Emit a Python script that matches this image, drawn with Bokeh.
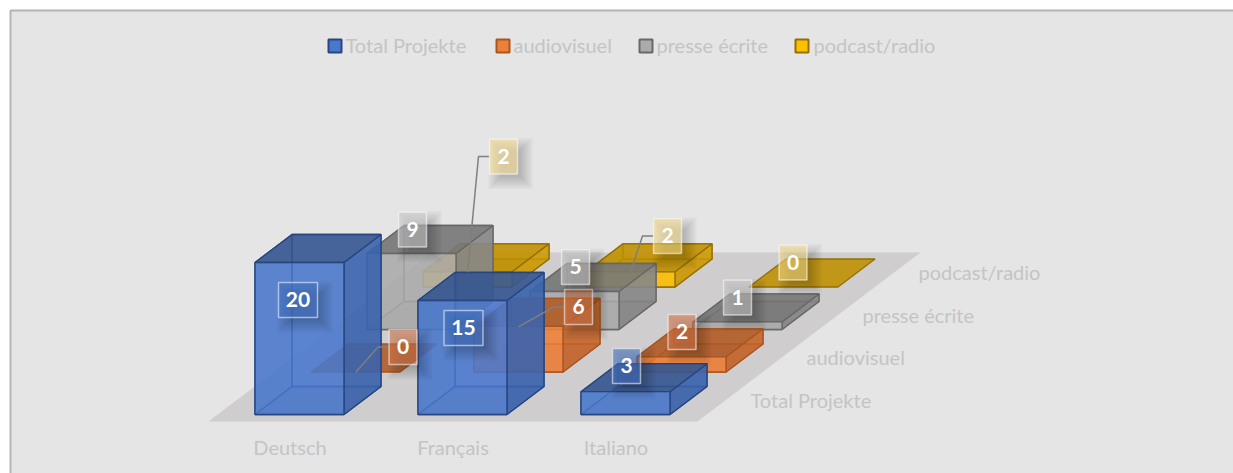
from bokeh.plotting import figure
from bokeh.models import ColumnDataSource, Range1d
from bokeh.core.properties import value
from bokeh.embed import file_html
from bokeh.resources import INLINE

categories = ["Deutsch", "Français", "Italiano"]
series_names = ["Total Projekte", "audiovisuel", "presse écrite", "podcast/radio"]

total_projekte = [20, 15, 3]
audiovisuel = [0, 6, 2]
presse_ecrite = [10, 5, 1]      # height of the drawn column
podcast_radio = [2, 2, 0]

total_labels = [20, 15, 3]
audiovisuel_labels = [0, 6, 2]
presse_labels = [9, 5, 1]       # the printed label differs from the drawn height
podcast_labels = [2, 2, 0]

heights = [total_projekte, audiovisuel, presse_ecrite, podcast_radio]
labels = [total_labels, audiovisuel_labels, presse_labels, podcast_labels]

# styles: front, side, top, edge, label fill
STYLE = [
    ("#4A78CC", "#3A62AC", "#35558F", "#264680", "#4472C4"),
    ("#EE8038", "#C4642A", "#B05A25", "#A8561F", "#D8784A"),
    ("#ABABAB", "#858585", "#757575", "#686868", "#CDCDCD"),
    ("#FFC000", "#CC9A05", "#BF9000", "#927000", "#FAE08C"),
]
TEXT_COL = "#C4C4C4"
FONT = "Lato"

# oblique projection of the 3D chart
FLOOR_X, FLOOR_Y = 208.0, 421.0
FLOOR_W = 489.0
DEPTH_X, DEPTH_Y = 223.0, -169.0
CAT_W = FLOOR_W / len(categories)
BAR_W = 89.0
BAR_DX, BAR_DY = 37.0, -28.0
ROW_DX, ROW_DY = 56.0, -42.5
FIRST_DX, FIRST_DY = 9.5, -7.0
GAP = 37.0
UNIT = 7.6


def box_corner(c, s):
    return (FLOOR_X + c * CAT_W + GAP + FIRST_DX + s * ROW_DX,
            FLOOR_Y + FIRST_DY + s * ROW_DY)


xs, ys, fills, alphas, edges = [], [], [], [], []


def face(pts, fill, alpha, edge):
    xs.append([q[0] for q in pts])
    ys.append([q[1] for q in pts])
    fills.append(fill)
    alphas.append(alpha)
    edges.append(edge)


for s in reversed(range(len(series_names))):
    front, side, top, edge, _ = STYLE[s]
    for c in range(len(categories)):
        x, y = box_corner(c, s)
        h = heights[s][c] * UNIT
        xr = x + BAR_W
        dx, dy = BAR_DX, BAR_DY
        if h > 0:
            # faces seen through the translucent box
            face([(x + dx, y + dy), (xr + dx, y + dy), (xr + dx, y + dy - h), (x + dx, y + dy - h)], front, 0.25, edge)
            face([(x, y), (x + dx, y + dy), (x + dx, y + dy - h), (x, y - h)], side, 0.25, edge)
            face([(x, y), (xr, y), (xr + dx, y + dy), (x + dx, y + dy)], top, 0.35, edge)
            # outer faces
            face([(xr, y), (xr + dx, y + dy), (xr + dx, y + dy - h), (xr, y - h)], side, 0.88, edge)
            face([(x, y - h), (xr, y - h), (xr + dx, y + dy - h), (x + dx, y + dy - h)], top, 0.88, edge)
            face([(x, y), (xr, y), (xr, y - h), (x, y - h)], front, 0.85, edge)
        else:
            face([(x, y), (xr, y), (xr + dx, y + dy), (x + dx, y + dy)], top, 0.88, edge)

p = figure(width=1233, height=473, x_range=Range1d(0, 1233), y_range=Range1d(473, 0),
           output_backend="svg", toolbar_location=None, min_border=0,
           background_fill_color="white", border_fill_color="white", outline_line_color=None)
p.xaxis.visible = False
p.yaxis.visible = False
p.grid.visible = False

# chart area with its border
p.quad(left=[10], right=[1233], top=[10], bottom=[473], fill_color="#E5E5E5", line_color=None)
p.line([10, 10, 1233], [473, 10, 10], line_color="#B4B4B4", line_width=2)

# floor
p.patch([FLOOR_X, FLOOR_X + FLOOR_W, FLOOR_X + FLOOR_W + DEPTH_X, FLOOR_X + DEPTH_X],
        [FLOOR_Y, FLOOR_Y, FLOOR_Y + DEPTH_Y, FLOOR_Y + DEPTH_Y],
        fill_color="#CFCDCD", line_color=None)

p.patches("xs", "ys", source=ColumnDataSource(dict(xs=xs, ys=ys, fill=fills, alpha=alphas, edge=edges)),
          fill_color="fill", fill_alpha="alpha", line_color="edge", line_width=1.3)

# legend
leg_marker_x = [327, 495, 638, 794]
leg_text_x = [345, 513, 656, 813]
for i, name in enumerate(series_names):
    p.quad(left=[leg_marker_x[i] + 1], right=[leg_marker_x[i] + 14], top=[39], bottom=[52],
           fill_color=STYLE[i][0], line_color=STYLE[i][3], line_width=2)
p.text(leg_text_x, [44.5] * 4, text=series_names, text_font=value(FONT), text_font_size="20px",
       text_color=TEXT_COL, text_align="left", text_baseline="middle")

# axis labels
cat_x = [box_corner(c, 0)[0] + BAR_W / 2 - 9.5 for c in range(len(categories))]
p.text(cat_x, [446] * 3, text=categories, text_font=value(FONT), text_font_size="20px",
       text_color=TEXT_COL, text_align="center", text_baseline="middle")
ser_x = [FLOOR_X + FLOOR_W + 53 + s * ROW_DX for s in range(4)]
ser_y = [399 + s * ROW_DY for s in range(4)]
p.text(ser_x, ser_y, text=series_names, text_font=value(FONT), text_font_size="20px",
       text_color=TEXT_COL, text_align="left", text_baseline="middle")

# data labels: offset of each label's centre from its column's front top left corner
LABEL_OFFSET = [
    [(43, 37.5), (45.5, 27.5), (45.5, -25.7)],
    [(92, -25), (104.5, -19.4), (45, -24.8)],
    [(45.5, -24), (45.5, -24.5), (44.5, -24.4)],
    [(80.5, -115.3), (81.5, -35.8), (44, -24.5)],
]
LEADERS = {(1, 0), (1, 1), (3, 0), (3, 1)}

for s in range(4):
    for c in range(3):
        x, y = box_corner(c, s)
        y -= heights[s][c] * UNIT
        ox, oy = LABEL_OFFSET[s][c]
        cx, cy = x + ox, y + oy
        hw = (39 if labels[s][c] >= 10 else 28) / 2
        hh = 17.5
        if (s, c) in LEADERS:
            p.line([cx - hw, cx - hw - 11, x + 44.5], [cy, cy, y + 0.5], line_color="#7F7F7F", line_width=1.5)
        for k in range(7):
            grow = 8 - 2 * k
            p.quad(left=[cx - hw + 7 - grow], right=[cx + hw + 7 + grow], top=[cy - hh + 7 - grow],
                   bottom=[cy + hh + 7 + grow], fill_color="black", fill_alpha=0.03, line_color=None)
        p.quad(left=[cx - hw], right=[cx + hw], top=[cy - hh], bottom=[cy + hh],
               fill_color=STYLE[s][4], fill_alpha=0.55, line_color="white", line_alpha=0.55, line_width=1.5)
        p.text([cx], [cy - 0.5], text=[str(labels[s][c])], text_font=value(FONT), text_font_size="21px",
               text_font_style="bold", text_color="white", text_align="center", text_baseline="middle")

open("out.html", "w").write(file_html(p, INLINE))
